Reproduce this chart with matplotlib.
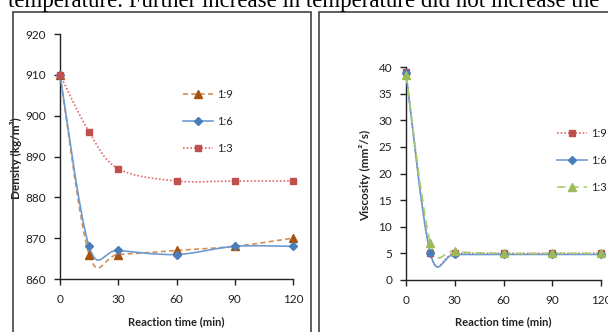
import numpy as np
import matplotlib
matplotlib.use("Agg")
import matplotlib.pyplot as plt
from matplotlib.path import Path
from matplotlib.patches import PathPatch, Rectangle
from matplotlib.lines import Line2D

# ---------------- data ----------------
time_min = [0, 15, 30, 60, 90, 120]
xticks = [0, 30, 60, 90, 120]

density_labels = ["1:9", "1:6", "1:3"]
density_19 = [910, 866, 866, 867, 868, 870]
density_16 = [910, 868, 867, 866, 868, 868]
density_13 = [910, 896, 887, 884, 884, 884]
density_yticks = [860, 870, 880, 890, 900, 910, 920]

visc_labels = ["1:9", "1:6", "1:3"]
visc_19 = [39.0, 5.0, 5.0, 5.0, 5.0, 5.0]
visc_16 = [38.8, 5.0, 4.8, 4.8, 4.8, 4.8]
visc_13 = [38.5, 7.0, 5.4, 5.0, 5.0, 5.0]
visc_yticks = [0, 5, 10, 15, 20, 25, 30, 35, 40]

caption = "temperature. Further increase in temperature did not increase the"

FONT = "Lato"
W, H = 608, 332
fig = plt.figure(figsize=(W / 100, H / 100), dpi=100)
fig.patch.set_facecolor("white")


def fx(px):
    return px / W


def fy(py):
    return 1 - py / H


def smooth(ax, x, y, color, ls, lw=1.2, z=2):
    pts = np.column_stack([x, y]).astype(float)
    verts = [pts[0]]
    codes = [Path.MOVETO]
    n = len(pts)
    for i in range(n - 1):
        p0 = pts[i - 1] if i > 0 else pts[i]
        p1 = pts[i]
        p2 = pts[i + 1]
        p3 = pts[i + 2] if i + 2 < n else pts[i + 1]
        verts += [p1 + (p2 - p0) / 6.0, p2 - (p3 - p1) / 6.0, p2]
        codes += [Path.CURVE4] * 3
    patch = PathPatch(Path(verts, codes), fill=False, edgecolor=color,
                      linewidth=lw, linestyle=ls, zorder=z, capstyle="butt")
    ax.add_patch(patch)


def style_axes(ax, yticks, ylim):
    ax.set_xlim(0, 120)
    ax.set_ylim(*ylim)
    ax.set_xticks(xticks)
    ax.set_yticks(yticks)
    for s in ("top", "right"):
        ax.spines[s].set_visible(False)
    for s in ("left", "bottom"):
        ax.spines[s].set_color("#222222")
        ax.spines[s].set_linewidth(1.0)
    ax.tick_params(direction="out", length=4, width=1.0, color="#222222",
                   labelsize=8.5, labelcolor="#222222")
    ax.tick_params(axis="x", pad=7)
    ax.tick_params(axis="y", pad=6)
    for lab in ax.get_xticklabels() + ax.get_yticklabels():
        lab.set_fontfamily(FONT)
    ax.set_facecolor("none")


# series styles
brown_line, brown_mk = "#D38E55", "#A5520F"
blue_line, blue_mk = "#6C9BD2", "#4A7EBB"
red_line, red_mk = "#E06A6A", "#C0504D"
green_line, green_mk = "#A9CC6E", "#9BBB59"
dash_brown = (0, (3, 2))
dot_red = (0, (1.0, 1.2))
dash_green = (0, (5, 3))
MS_SQ, MS_TRI, MS_DIA = 5.0, 5.5, 4.3

# ---------------- left: density ----------------
axL = fig.add_axes([fx(60), fy(279), fx(293 - 60), (279 - 34) / H])
style_axes(axL, density_yticks, (860, 920))

smooth(axL, time_min, density_19, brown_line, dash_brown, z=2)
smooth(axL, time_min, density_16, blue_line, "solid", z=3)
smooth(axL, time_min, density_13, red_line, dot_red, z=4)
axL.plot(time_min, density_19, ls="none", marker="^", ms=MS_TRI, mfc=brown_mk,
         mec=brown_mk, zorder=5, clip_on=False)
axL.plot(time_min, density_16, ls="none", marker="D", ms=MS_DIA, mfc=blue_mk,
         mec=blue_mk, zorder=6, clip_on=False)
axL.plot(time_min, density_13, ls="none", marker="s", ms=MS_SQ, mfc=red_mk,
         mec=red_mk, zorder=7, clip_on=False)

axL.set_xlabel("Reaction time (min)", fontfamily=FONT, fontweight="bold",
               fontsize=8, color="#222222")
axL.set_ylabel("Density (kg/m³)", fontfamily=FONT, fontweight="bold",
               fontsize=8.5, color="#222222")
axL.xaxis.set_label_coords(0.498, -0.15)
axL.yaxis.set_label_coords(-0.165, 0.494)

hL = [
    Line2D([], [], color=brown_line, ls=dash_brown, lw=1.2, marker="^",
           ms=MS_TRI, mfc=brown_mk, mec=brown_mk),
    Line2D([], [], color=blue_line, ls="solid", lw=1.2, marker="D", ms=MS_DIA,
           mfc=blue_mk, mec=blue_mk),
    Line2D([], [], color=red_line, ls=dot_red, lw=1.2, marker="s", ms=MS_SQ,
           mfc=red_mk, mec=red_mk),
]
legL = fig.legend(hL, density_labels, loc="upper left",
                  bbox_to_anchor=(fx(183), fy(89)), frameon=False,
                  borderpad=0, borderaxespad=0, handlelength=2.7,
                  handletextpad=0.35, labelspacing=1.42,
                  prop={"family": FONT, "size": 8})
for t in legL.get_texts():
    t.set_color("#222222")

# ---------------- right: viscosity ----------------
axR = fig.add_axes([fx(406), fy(280), fx(601 - 406), (280 - 67) / H])
style_axes(axR, visc_yticks, (0, 40))

smooth(axR, time_min, visc_19, red_line, dot_red, z=2)
smooth(axR, time_min, visc_16, blue_line, "solid", z=3)
smooth(axR, time_min, visc_13, green_line, dash_green, z=4)
axR.plot(time_min, visc_19, ls="none", marker="s", ms=MS_SQ, mfc=red_mk,
         mec=red_mk, zorder=5, clip_on=False)
axR.plot(time_min, visc_16, ls="none", marker="D", ms=MS_DIA, mfc=blue_mk,
         mec=blue_mk, zorder=6, clip_on=False)
axR.plot(time_min, visc_13, ls="none", marker="^", ms=MS_TRI, mfc=green_mk,
         mec=green_mk, zorder=7, clip_on=False)

axR.set_xlabel("Reaction time (min)", fontfamily=FONT, fontweight="bold",
               fontsize=8, color="#222222")
axR.set_ylabel("Viscosity (mm²/s)", fontfamily=FONT, fontweight="bold",
               fontsize=8.5, color="#222222")
axR.xaxis.set_label_coords(0.497, -0.17)
axR.yaxis.set_label_coords(-0.18, 0.49)

hR = [
    Line2D([], [], color=red_line, ls=dot_red, lw=1.2, marker="s", ms=MS_SQ,
           mfc=red_mk, mec=red_mk),
    Line2D([], [], color=blue_line, ls="solid", lw=1.2, marker="D", ms=MS_DIA,
           mfc=blue_mk, mec=blue_mk),
    Line2D([], [], color=green_line, ls=dash_green, lw=1.2, marker="^",
           ms=MS_TRI, mfc=green_mk, mec=green_mk),
]
legR = fig.legend(hR, visc_labels, loc="upper left",
                  bbox_to_anchor=(fx(557), fy(128)), frameon=False,
                  borderpad=0, borderaxespad=0, handlelength=2.7,
                  handletextpad=0.35, labelspacing=1.42,
                  prop={"family": FONT, "size": 8})
for t in legR.get_texts():
    t.set_color("#222222")

# ---------------- panel frames and caption ----------------
fig.patches.append(Rectangle((fx(13), fy(340)), fx(311 - 13), (340 - 12) / H,
                             transform=fig.transFigure, fill=False,
                             edgecolor="#333333", linewidth=1.1, zorder=0))
fig.patches.append(Rectangle((fx(319), fy(340)), fx(620 - 319), (340 - 12) / H,
                             transform=fig.transFigure, fill=False,
                             edgecolor="#333333", linewidth=1.1, zorder=0))
fig.text(fx(8), fy(7), caption, family="Liberation Serif", fontsize=16.5,
         ha="left", va="baseline", color="black")

fig.savefig("out.png", dpi=100)
